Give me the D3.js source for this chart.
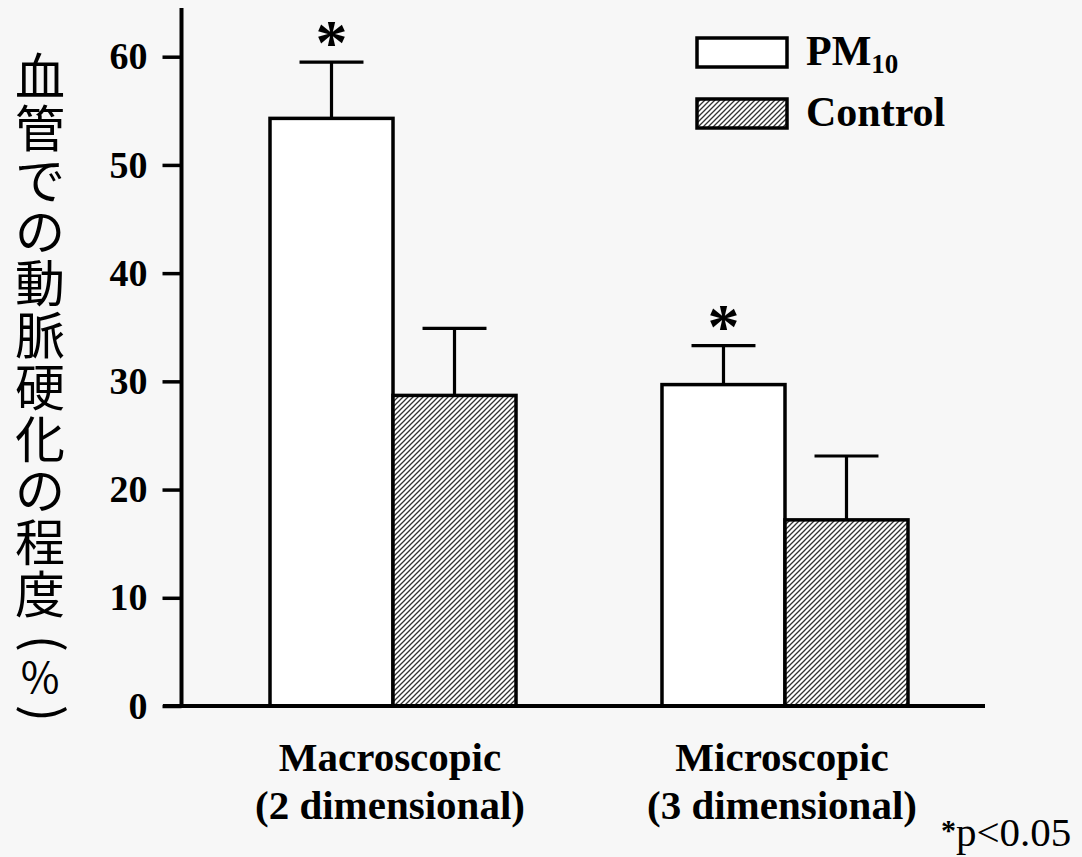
<!DOCTYPE html>
<html>
<head>
<meta charset="utf-8">
<script src="https://cdn.jsdelivr.net/npm/d3@7"></script>
<style>
  body { margin: 0; background: #f7f7f7; }
  svg { display: block; }
</style>
</head>
<body>
<div id="chart"></div>
<script>
const width = 1082
const height = 857

// data
const groups = ["Macroscopic", "Microscopic"];
const groupSub = ["(2 dimensional)", "(3 dimensional)"];
const series = ["PM10", "Control"];
const pm10Values = [54.3, 29.7];
const pm10Errors = [5.2, 3.6];
const controlValues = [28.7, 17.2];
const controlErrors = [6.2, 5.9];
const significant = [true, true];
const yTicks = [0, 10, 20, 30, 40, 50, 60];
const yLabelChars = ["血", "管", "で", "の", "動", "脈", "硬", "化", "の", "程", "度"];

const serif = "'Liberation Serif', 'Times New Roman', serif";

let bars = [];
groups.forEach((g, i) => {
	bars.push({ group: g, series: "PM10", value: pm10Values[i], err: pm10Errors[i], star: significant[i] });
	bars.push({ group: g, series: "Control", value: controlValues[i], err: controlErrors[i], star: false });
});

const svg = d3.select("#chart")
	.append("svg")
	.attr("width", width)
	.attr("height", height)
	.style("background", "#f7f7f7");

// hatch for control bars
const defs = svg.append("defs");
defs.append("pattern")
	.attr("id", "hatch")
	.attr("patternUnits", "userSpaceOnUse")
	.attr("width", 5)
	.attr("height", 5)
	.call(p => p.append("rect").attr("width", 5).attr("height", 5).attr("fill", "#fff"))
	.append("path")
	.attr("d", "M-1,1 l2,-2 M0,5 l5,-5 M4,6 l2,-2")
	.attr("stroke", "#333")
	.attr("stroke-width", 1.3);

const fill = d => d === "PM10" ? "#fff" : "url(#hatch)";

let x0 = d3.scaleBand()
	.domain(groups)
	.range([182, 996])
	.paddingInner(0.3724)
	.paddingOuter(0.2245);

let x1 = d3.scaleBand()
	.domain(series)
	.range([0, x0.bandwidth()]);

let y = d3.scaleLinear()
	.domain([0, 64.5])
	.range([706, 8]);

// bars
const barG = svg.append("g");
barG.selectAll("rect")
	.data(bars)
	.join("rect")
	.attr("x", d => x0(d.group) + x1(d.series))
	.attr("y", d => y(d.value))
	.attr("width", x1.bandwidth())
	.attr("height", d => y(0) - y(d.value))
	.attr("fill", d => fill(d.series))
	.attr("stroke", "#000")
	.attr("stroke-width", 3.5);

// error bars
const capHalf = x1.bandwidth() * 0.26;
const err = svg.append("g")
	.attr("stroke", "#000")
	.attr("stroke-width", 3.2);
bars.forEach(d => {
	let cx = x0(d.group) + x1(d.series) + x1.bandwidth() / 2;
	err.append("line")
		.attr("x1", cx).attr("x2", cx)
		.attr("y1", y(d.value)).attr("y2", y(d.value + d.err));
	err.append("line")
		.attr("x1", cx - capHalf).attr("x2", cx + capHalf)
		.attr("y1", y(d.value + d.err)).attr("y2", y(d.value + d.err));
	if (d.star) {
		svg.append("text")
			.attr("x", cx)
			.attr("y", y(d.value + d.err) + 2)
			.attr("text-anchor", "middle")
			.attr("font-family", serif)
			.attr("font-weight", "bold")
			.attr("font-size", 64)
			.text("*");
	}
});

// y axis
const yAxis = svg.append("g")
	.attr("transform", "translate(181.5,0)")
	.call(d3.axisLeft(y).tickValues(yTicks).tickSize(19).tickPadding(15).tickSizeOuter(0));
yAxis.select(".domain").attr("stroke-width", 4).attr("d", `M0,${y(0)}V${y(64.5)}`);
yAxis.selectAll(".tick line").attr("stroke-width", 3.5);
yAxis.selectAll(".tick text")
	.attr("font-family", serif)
	.attr("font-weight", "bold")
	.attr("font-size", 38)
	.attr("fill", "#000");

// x baseline
svg.append("line")
	.attr("x1", 163).attr("x2", 985)
	.attr("y1", y(0)).attr("y2", y(0))
	.attr("stroke", "#000")
	.attr("stroke-width", 4);

// category labels
const cat = svg.append("g")
	.attr("font-family", serif)
	.attr("font-weight", "bold")
	.attr("font-size", 41)
	.attr("text-anchor", "middle");
groups.forEach((g, i) => {
	let cx = x0(g) + x0.bandwidth() / 2;
	cat.append("text").attr("x", cx - 3).attr("y", 771).text(g);
	cat.append("text").attr("x", cx - 3).attr("y", 819).text(groupSub[i]);
});

// legend
const legend = svg.append("g")
	.attr("font-family", serif)
	.attr("font-weight", "bold")
	.attr("font-size", 42);
series.forEach((s, i) => {
	let ly = 38 + i * 61;
	legend.append("rect")
		.attr("x", 697).attr("y", ly)
		.attr("width", 90).attr("height", 29)
		.attr("fill", fill(s))
		.attr("stroke", "#000")
		.attr("stroke-width", 3.5);
	let t = legend.append("text").attr("x", 806).attr("y", ly + 27);
	if (s === "PM10") {
		t.append("tspan").text("PM");
		t.append("tspan").attr("font-size", 27).attr("dy", 8).text("10");
	} else {
		t.text(s);
	}
});

// y label: one text, each glyph stacked downwards
const ylab = svg.append("text")
	.attr("font-family", "'Noto Sans CJK JP', sans-serif")
	.attr("font-size", 50)
	.attr("text-anchor", "middle")
	.attr("fill", "#000");
yLabelChars.forEach((c, i) => {
	ylab.append("tspan").attr("x", 40).attr("y", 95 + i * 51.8).text(c);
});
// parentheses turned to vertical form, percent sign upright
ylab.append("tspan").attr("x", 34).attr("y", 635).attr("rotate", 90).text("(");
ylab.append("tspan").attr("x", 40).attr("y", 693).attr("font-size", 42).text("%");
ylab.append("tspan").attr("x", 34).attr("y", 705).attr("rotate", 90).text(")");

// footnote
const note = svg.append("text")
	.attr("x", 941)
	.attr("y", 846)
	.attr("font-family", serif)
	.attr("font-size", 41);
note.append("tspan").attr("font-weight", "bold").attr("font-size", 30).attr("dy", -6).text("*");
note.append("tspan").attr("dy", 6).text("p<0.05");
</script>
</body>
</html>
